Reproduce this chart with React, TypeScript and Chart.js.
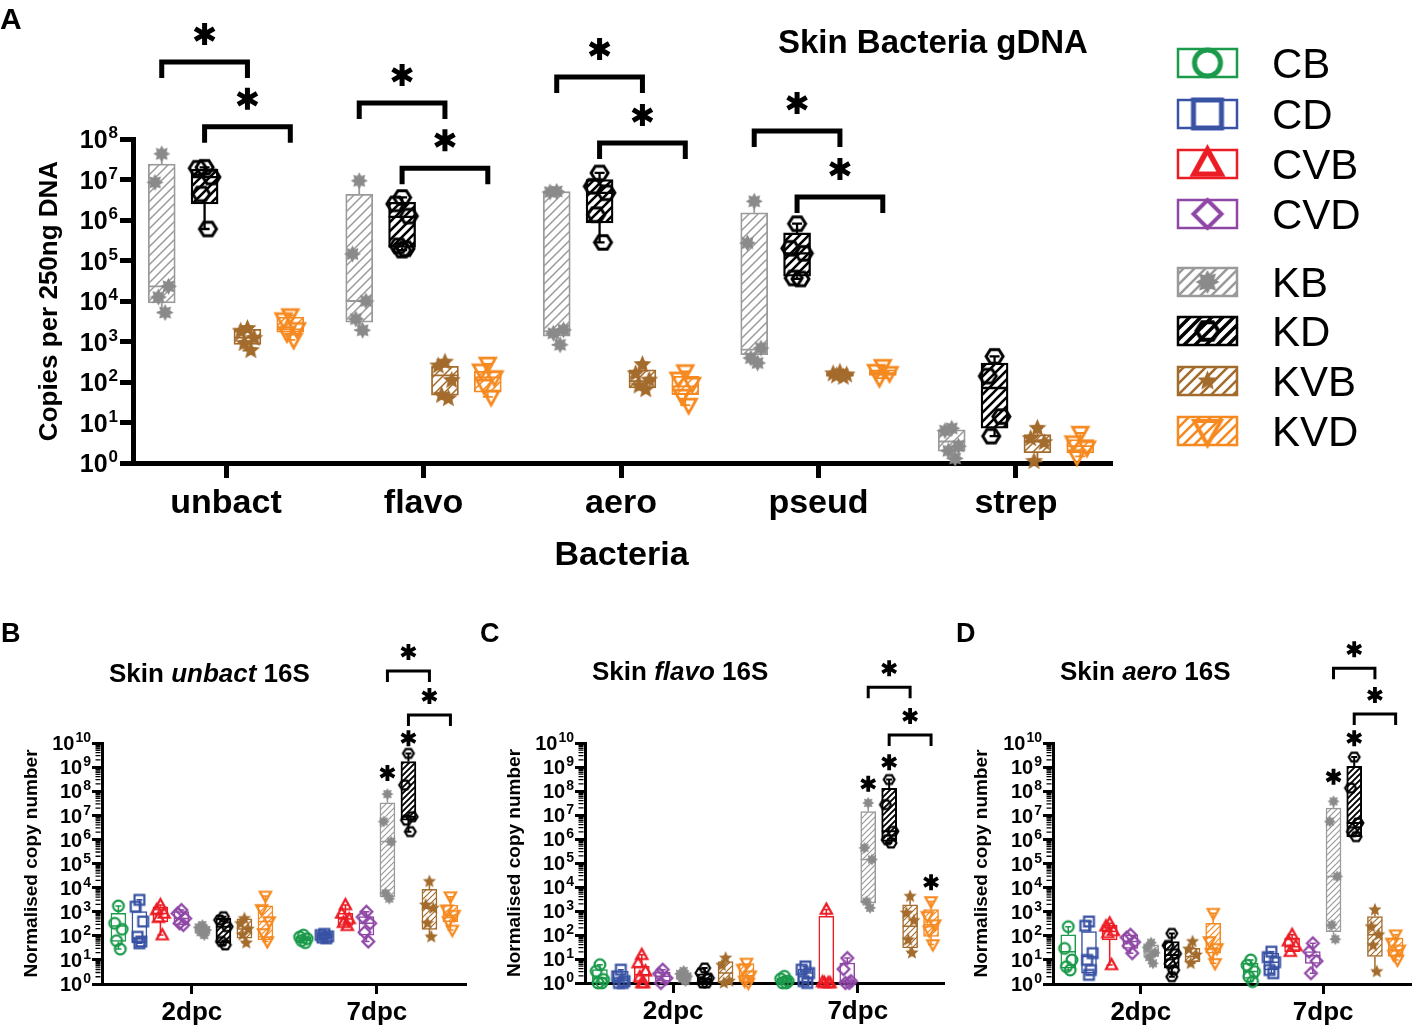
import React, { useEffect, useRef } from "react";
import { Chart, registerables } from "chart.js";
Chart.register(...registerables);

const FONT = "'Liberation Sans', Arial, Helvetica, sans-serif";

// ---------- categories / groups / ticks ----------
const CATS_A = ["unbact", "flavo", "aero", "pseud", "strep"];
const CATS_BOT = ["2dpc", "7dpc"];
const GROUPS = ["CB", "CD", "CVB", "CVD", "KB", "KD", "KVB", "KVD"];
const GROUPS_A = ["KB", "KD", "KVB", "KVD"];
const Y_EXPS_A = [0, 1, 2, 3, 4, 5, 6, 7, 8];
const Y_EXPS_BOT = [0, 1, 2, 3, 4, 5, 6, 7, 8, 9, 10];

// ---------- Panel A (rows: KB, KD, KVB, KVD; box = [min, q1, median, q3, max]) ----------
const A_UNBACT_BOX = [[5.2e3, 9.0e3, 2.3e4, 2.4e7, 4.3e7], [6.0e5, 2.5e6, 1.15e7, 1.8e7, 2.0e7], [600, 850, 1250, 2000, 2100], [1100, 1700, 2000, 4000, 4400]];
const A_UNBACT_PTS = [[4.3e7, 8.5e6, 2.3e4, 1.25e4, 5.2e3], [2.0e7, 1.9e7, 1.15e7, 4.4e6, 6.0e5], [2100, 1800, 1200, 900, 600], [4400, 3500, 2000, 1600, 1100]];
const A_FLAVO_BOX = [[1.9e3, 3.0e3, 1.0e4, 4.3e6, 9.3e6], [1.8e5, 2.1e5, 1.2e6, 2.75e6, 3.6e6], [39, 47, 145, 245, 310], [43, 56, 130, 185, 280]];
const A_FLAVO_PTS = [[9.3e6, 1.45e5, 1.0e4, 3.6e3, 1.9e3], [3.6e6, 2.5e6, 1.25e6, 2.3e5, 1.95e5, 1.8e5], [310, 250, 110, 47, 39], [280, 190, 130, 80, 43]];
const A_AERO_BOX = [[830, 1.35e3, 1.8e3, 5.0e6, 5.1e6], [2.8e5, 8.5e5, 4.7e6, 1.0e7, 1.45e7], [65, 71, 105, 200, 270], [27, 49, 78, 138, 182]];
const A_AERO_PTS = [[5.1e6, 4.9e6, 1.95e3, 1.6e3, 830], [1.45e7, 6.8e6, 4.7e6, 1.35e6, 2.8e5], [270, 160, 112, 80, 65], [182, 120, 89, 45, 27]];
const A_PSEUD_BOX = [[295, 470, 630, 1.5e6, 2.9e6], [3.5e4, 4.1e4, 1.5e5, 4.8e5, 8.1e5], [132, 138, 150, 170, 175], [125, 145, 165, 200, 245]];
const A_PSEUD_PTS = [[2.9e6, 2.7e5, 690, 390, 295], [8.1e5, 2.0e5, 1.5e5, 3.7e4, 3.5e4], [175, 160, 150, 142, 132], [245, 185, 165, 125]];
const A_STREP_BOX = [[1.3, 1.95, 3.4, 6.6, 7.2], [4.6, 7.2, 71, 295, 430], [1.1, 1.8, 3.4, 5.0, 7.2], [1.45, 1.8, 2.6, 3.8, 5.5]];
const A_STREP_PTS = [[7.2, 6.3, 2.6, 2.0, 1.3], [430, 140, 14, 4.6], [7.2, 4.0, 3.2, 1.1], [5.5, 3.2, 2.4, 1.45]];

// ---------- Panels B-D (rows: CB, CD, CVB, CVD, KB, KD, KVB, KVD) ----------
const B_2DPC_BOX = [[28, 58, 257, 850, 1740], [49, 52, 80, 1000, 3100], [107, 390, 850, 1600, 1900], [280, 290, 525, 1000, 1170], [107, 126, 174, 240, 280], [42, 50, 240, 535, 620], [51, 80, 190, 500, 520], [58, 68, 390, 1750, 4500]];
const B_2DPC_PTS = [[1740, 330, 186, 63, 28], [3100, 1620, 390, 91, 58, 49], [1900, 1170, 850, 560, 107], [1170, 850, 525, 330, 280], [280, 224, 174, 141, 107], [620, 450, 240, 58, 42], [520, 320, 190, 110, 51], [4500, 1250, 390, 126, 58]];
const B_7DPC_BOX = [[52, 60, 76, 93, 107], [79, 83, 100, 115, 120], [260, 270, 500, 850, 1900], [58, 107, 330, 620, 1000], [3.5e3, 4.2e3, 8.1e5, 3.3e7, 7.6e7], [2.1e6, 6.3e6, 8.7e6, 1.7e9, 3.7e9], [91, 186, 1.4e3, 8.5e3, 1.8e4], [174, 390, 720, 1.9e3, 4.2e3]];
const B_7DPC_PTS = [[107, 89, 76, 63, 52], [120, 107, 95, 85, 79], [1900, 850, 500, 350, 260], [1000, 600, 330, 140, 58], [7.6e7, 5.5e6, 8.1e5, 5.8e3, 3.5e3], [3.7e9, 1.8e8, 8.7e6, 6.3e6, 2.1e6], [1.8e4, 1.9e3, 1.4e3, 330, 91], [4.2e3, 1.2e3, 720, 390, 174]];

const C_2DPC_BOX = [[1, 1, 1.6, 3.6, 5.8], [1, 1, 1.3, 3.1, 3.6], [1, 1, 2.2, 4.9, 15], [1, 1.2, 1.9, 2.8, 3.6], [1.2, 1.4, 1.9, 2.6, 3.2], [1, 1.05, 1.4, 2.4, 4.2], [1, 1, 2.6, 7.9, 11], [1, 1.1, 2.0, 6.5, 6.8]];
const C_2DPC_PTS = [[5.8, 3.1, 1.4, 1, 1], [3.6, 1.9, 1.2, 1, 1], [15, 6.8, 3.1, 1.8, 1, 1], [3.6, 2.4, 1.6, 1], [3.2, 2.4, 1.9, 1.5, 1.2], [4.2, 2.6, 1.6, 1, 1], [11, 5.5, 1.2, 1], [6.8, 3.8, 2.0, 1.2, 1]];
const C_7DPC_BOX = [[1, 1, 1.2, 1.6, 1.9], [1, 1.1, 2.6, 3.8, 4.9], [1, 1, 1, 600, 1150], [1, 1, 1.2, 6.8, 11], [1.35e3, 2.1e3, 1.4e5, 1.4e7, 3.2e7], [6.8e5, 8e5, 2.1e6, 1.3e8, 3e8], [18, 29, 230, 1.8e3, 4.1e3], [40, 87, 270, 1.15e3, 2.5e3]];
const C_7DPC_PTS = [[1.9, 1.5, 1.2, 1, 1], [4.9, 3.6, 2.6, 1.2, 1], [1150, 1.1, 1, 1, 1], [11, 3.8, 1.2, 1, 1], [3.2e7, 4.3e5, 1.4e5, 2.5e3, 1.35e3], [3e8, 2.7e7, 2.1e6, 9.3e5, 6.8e5], [4.1e3, 830, 400, 63, 18], [2.5e3, 600, 270, 150, 40]];

const D_2DPC_BOX = [[3.8, 4.5, 22, 110, 240], [2.4, 2.8, 14, 150, 390], [6.2, 68, 150, 280, 330], [19, 30, 58, 110, 110], [7.2, 14, 22, 42, 52], [2, 4.5, 16, 58, 126], [7.2, 8.5, 14, 30, 58], [7.2, 19, 30, 330, 870]];
const D_2DPC_PTS = [[240, 30, 10, 5.2, 3.8], [390, 260, 19, 10, 3.8, 2.4], [330, 250, 160, 130, 6.2], [110, 85, 55, 38, 19], [52, 33, 20, 13, 7.2], [126, 40, 18, 7, 3.8, 2.0], [58, 28, 16, 7.2], [870, 58, 30, 19, 7.2]];
const D_7DPC_BOX = [[1.26, 1.7, 3.3, 7.2, 10], [2.8, 3.8, 8, 19, 22], [22, 22, 35, 80, 110], [2.8, 7.2, 15, 22, 49], [72, 150, 2.9e4, 2e7, 3.8e7], [1.3e6, 1.3e6, 4.8e6, 1.07e9, 2.6e9], [3.3, 14, 110, 630, 1.2e3], [10, 14, 26, 80, 110]];
const D_7DPC_PTS = [[10, 6, 3.3, 2, 1.26], [22, 13, 8, 3.8, 2.8], [110, 60, 38, 22], [49, 22, 9, 2.8], [3.8e7, 5.5e6, 2.9e4, 280, 72], [2.6e9, 1.35e8, 4.8e6, 2.1e6, 1.3e6], [1.2e3, 240, 110, 40, 3.3], [110, 50, 26, 16, 10]];

// ---------- significance marks (at = log10 of height) ----------
const A_BRACKETS = [
  { cat: 0, from: "KB", to: "KVB", at: 9.9 }, { cat: 0, from: "KD", to: "KVD", at: 8.3 },
  { cat: 1, from: "KB", to: "KVB", at: 8.89 }, { cat: 1, from: "KD", to: "KVD", at: 7.28 },
  { cat: 2, from: "KB", to: "KVB", at: 9.53 }, { cat: 2, from: "KD", to: "KVD", at: 7.9 },
  { cat: 3, from: "KB", to: "KVB", at: 8.2 }, { cat: 3, from: "KD", to: "KVD", at: 6.57 },
];
const B_BRACKETS = [{ cat: 1, from: "KB", to: "KVB", at: 12.99 }, { cat: 1, from: "KD", to: "KVD", at: 11.16 }];
const C_BRACKETS = [{ cat: 1, from: "KB", to: "KVB", at: 12.32 }, { cat: 1, from: "KD", to: "KVD", at: 10.33 }];
const D_BRACKETS = [{ cat: 1, from: "KB", to: "KVB", at: 13.1 }, { cat: 1, from: "KD", to: "KVD", at: 11.2 }];
const B_STARS = [{ cat: 1, g: "KB", at: 8.76 }, { cat: 1, g: "KD", at: 10.2 }];
const C_STARS = [{ cat: 1, g: "KB", at: 8.3 }, { cat: 1, g: "KD", at: 9.2 }, { cat: 1, g: "KVD", at: 4.2 }];
const D_STARS = [{ cat: 1, g: "KB", at: 8.6 }, { cat: 1, g: "KD", at: 10.2 }];

// ---------- styles ----------
const STYLES: any = {
  CB: { color: "#1a9a4a", box: "#1a9a4a", marker: "circle", hatch: false },
  CD: { color: "#3852a4", box: "#3852a4", marker: "square", hatch: false },
  CVB: { color: "#ec1c24", box: "#ec1c24", marker: "triangle", hatch: false },
  CVD: { color: "#8f47a6", box: "#8f47a6", marker: "diamond", hatch: false },
  KB: { color: "#8a8a8a", box: "#9a9a9a", marker: "gear", hatch: true },
  KD: { color: "#000000", box: "#000000", marker: "hexagon", hatch: true },
  KVB: { color: "#a36b2c", box: "#a36b2c", marker: "star5", hatch: true },
  KVD: { color: "#f6891f", box: "#f6891f", marker: "invtri", hatch: true },
};

function makeHatch(ctx: CanvasRenderingContext2D, color: string, sp: number, lw: number) {
  const c = document.createElement("canvas");
  c.width = sp; c.height = sp;
  const g = c.getContext("2d")!;
  g.fillStyle = "#fff"; g.fillRect(0, 0, sp, sp);
  g.strokeStyle = color; g.lineWidth = lw;
  g.beginPath();
  for (let n = 0; n <= 2; n++) { g.moveTo(-1, n * sp + 1); g.lineTo(n * sp + 1, -1); }
  g.stroke();
  return ctx.createPattern(c, "repeat");
}

function makeMarker(kind: string, color: string, size: number, lw: number) {
  const S = Math.ceil(size + lw * 3 + 4);
  const c = document.createElement("canvas");
  c.width = S; c.height = S;
  const g = c.getContext("2d")!;
  const cx = S / 2, cy = S / 2, R = size / 2, r = R - lw / 2;
  g.strokeStyle = color; g.fillStyle = color; g.lineWidth = lw; g.lineJoin = "miter"; g.miterLimit = 3;
  const poly = (pts: number[][]) => {
    g.beginPath();
    pts.forEach(([x, y], i) => (i ? g.lineTo(cx + x, cy + y) : g.moveTo(cx + x, cy + y)));
    g.closePath();
  };
  const ring = (n: number, rOut: number, rIn: number, start: number) =>
    Array.from({ length: n * 2 }, (_, i) => {
      const a = start + (i * Math.PI) / n;
      const rr = i % 2 ? rIn : rOut;
      return [rr * Math.cos(a), rr * Math.sin(a)];
    });
  switch (kind) {
    case "circle": g.beginPath(); g.arc(cx, cy, r, 0, Math.PI * 2); g.stroke(); break;
    case "square": g.beginPath(); g.rect(cx - r, cy - r, 2 * r, 2 * r); g.stroke(); break;
    case "triangle": poly([[0, -r], [r * 0.95, r * 0.72], [-r * 0.95, r * 0.72]]); g.stroke(); break;
    case "invtri": poly([[0, r], [r * 0.95, -r * 0.72], [-r * 0.95, -r * 0.72]]); g.stroke(); break;
    case "diamond": poly([[0, -r], [r, 0], [0, r], [-r, 0]]); g.stroke(); break;
    case "hexagon": poly(Array.from({ length: 6 }, (_, i) => [r * Math.cos((i * Math.PI) / 3), r * 0.92 * Math.sin((i * Math.PI) / 3)])); g.stroke(); break;
    case "gear": poly(ring(8, R, R * 0.62, -Math.PI / 2)); g.fill(); break;
    case "star5": poly(ring(5, R, R * 0.45, -Math.PI / 2)); g.fill(); break;
  }
  return c;
}

function drawStar6(ctx: CanvasRenderingContext2D, x: number, y: number, r: number, lw: number) {
  ctx.save();
  ctx.strokeStyle = "#000"; ctx.lineWidth = lw; ctx.lineCap = "butt";
  ctx.beginPath();
  for (const deg of [90, 30, 150]) {
    const a = (deg * Math.PI) / 180;
    ctx.moveTo(x - r * Math.cos(a), y - r * Math.sin(a));
    ctx.lineTo(x + r * Math.cos(a), y + r * Math.sin(a));
  }
  ctx.stroke();
  ctx.restore();
}

function drawMixed(ctx: CanvasRenderingContext2D, parts: [string, boolean][], x: number, y: number, size: number) {
  let cx = x;
  ctx.save();
  ctx.fillStyle = "#000"; ctx.textAlign = "left"; ctx.textBaseline = "alphabetic";
  for (const [t, it] of parts) {
    ctx.font = `${it ? "italic " : ""}bold ${size}px ${FONT}`;
    ctx.fillText(t, cx, y);
    cx += ctx.measureText(t).width;
  }
  ctx.restore();
}

// "10" with a superscript exponent, right-aligned at xr, vertically centred on y
function drawPow10(ctx: CanvasRenderingContext2D, exp: number, xr: number, y: number, F: number) {
  const e = String(exp);
  const fe = Math.round(F * 0.68);
  ctx.save();
  ctx.fillStyle = "#000"; ctx.textAlign = "left"; ctx.textBaseline = "alphabetic";
  ctx.font = `bold ${fe}px ${FONT}`;
  const we = ctx.measureText(e).width;
  ctx.font = `bold ${F}px ${FONT}`;
  const wb = ctx.measureText("10").width;
  const base = y + F * 0.36;
  const x0 = xr - we - wb - 1;
  ctx.fillText("10", x0, base);
  ctx.font = `bold ${fe}px ${FONT}`;
  ctx.fillText(e, x0 + wb + 1, base - F * 0.4);
  ctx.restore();
}

const JIT = [0, -0.5, 0.5, -0.25, 0.25, 0];

function buildChart(canvas: HTMLCanvasElement, s: any) {
  const ctx0 = canvas.getContext("2d")!;
  const pxPerUnit = (s.right - s.left) / (s.xMax - s.xMin);
  const halfU = s.barW / 2 / pxPerUnit;
  const off = (gi: number) => (gi - (s.groups.length - 1) / 2) * s.step;
  const gidx = (g: string) => s.groups.indexOf(g);
  const datasets: any[] = [];
  s.groups.forEach((g: string, gi: number) => {
    const st = STYLES[g];
    const fill = st.hatch ? makeHatch(ctx0, st.box, s.hatchSp, g === "KD" ? s.hatchLWBlack : s.hatchLW) : "#ffffff";
    datasets.push({
      type: "bar",
      label: g,
      isBox: true,
      data: s.cats.map((_: string, ci: number) => {
        const b = s.boxes[ci][gi];
        return { x: ci + off(gi), y: [b[1], b[3]], lo: b[0], med: b[2], hi: b[4] };
      }),
      backgroundColor: fill,
      borderColor: st.box,
      borderWidth: g === "KD" ? s.boxLW + 0.5 : s.boxLW,
      borderSkipped: false,
      barThickness: s.barW,
      grouped: false,
      order: 2,
      clip: false,
    });
    const [ms, mlw] = s.markerSize[g];
    const marker = makeMarker(st.marker, st.color, ms, mlw);
    const pts: any[] = [];
    s.cats.forEach((_: string, ci: number) =>
      s.pts[ci][gi].forEach((v: number, k: number) => pts.push({ x: ci + off(gi) + JIT[k % JIT.length] * halfU, y: v }))
    );
    datasets.push({ type: "scatter", label: g + " points", data: pts, pointStyle: marker, pointRadius: 6, pointHoverRadius: 6, order: 1, clip: false });
  });

  const annot = {
    id: "annot",
    afterDatasetDraw(chart: any, args: any) {
      const ds = chart.data.datasets[args.index];
      if (!ds.isBox) return;
      const ys = chart.scales.y;
      const ctx = chart.ctx;
      ctx.save();
      ctx.strokeStyle = ds.borderColor;
      ctx.lineWidth = ds.borderWidth;
      args.meta.data.forEach((bar: any, j: number) => {
        const raw = ds.data[j];
        const x = bar.x, half = bar.width / 2;
        const pLo = ys.getPixelForValue(raw.lo), pHi = ys.getPixelForValue(raw.hi);
        const pQ1 = ys.getPixelForValue(raw.y[0]), pQ3 = ys.getPixelForValue(raw.y[1]);
        const pMed = ys.getPixelForValue(raw.med);
        ctx.beginPath();
        ctx.moveTo(x - half, pMed); ctx.lineTo(x + half, pMed);
        if (pHi < pQ3 - 0.5) { ctx.moveTo(x, pQ3); ctx.lineTo(x, pHi); ctx.moveTo(x - s.cap, pHi); ctx.lineTo(x + s.cap, pHi); }
        if (pLo > pQ1 + 0.5) { ctx.moveTo(x, pQ1); ctx.lineTo(x, pLo); ctx.moveTo(x - s.cap, pLo); ctx.lineTo(x + s.cap, pLo); }
        ctx.stroke();
      });
      ctx.restore();
    },
    afterDraw(chart: any) {
      const ctx = chart.ctx;
      const xs = chart.scales.x, ys = chart.scales.y;
      const left = chart.chartArea.left;
      // y tick labels (10 with superscript exponent) at the library's tick positions
      ys.ticks.forEach((t: any) => {
        const e = Math.round(Math.log10(t.value));
        drawPow10(ctx, e, left - s.yTickLen - s.yTickPad, ys.getPixelForValue(t.value), s.yTickFont);
      });
      ctx.save();
      if (s.minor) {
        const edge = left - s.axisW / 2;
        ctx.strokeStyle = "#000"; ctx.lineWidth = 1.3;
        ctx.beginPath();
        for (let e = 0; e < s.yExps[s.yExps.length - 1]; e++) {
          for (let m = 2; m <= 9; m++) {
            const y = ys.getPixelForValue(m * Math.pow(10, e));
            ctx.moveTo(edge - s.minorLen, y); ctx.lineTo(edge, y);
          }
        }
        ctx.stroke();
      }
      ctx.strokeStyle = "#000"; ctx.lineWidth = s.bracketLW; ctx.lineJoin = "miter"; ctx.lineCap = "butt";
      s.brackets.forEach((b: any) => {
        const x1 = xs.getPixelForValue(b.cat + off(gidx(b.from)));
        const x2 = xs.getPixelForValue(b.cat + off(gidx(b.to)));
        const y = ys.getPixelForValue(Math.pow(10, b.at));
        ctx.beginPath();
        ctx.moveTo(x1, y + s.legLen); ctx.lineTo(x1, y); ctx.lineTo(x2, y); ctx.lineTo(x2, y + s.legLen);
        ctx.stroke();
        drawStar6(ctx, (x1 + x2) / 2, y - s.starGap, s.starR, s.starLW);
      });
      s.stars.forEach((st: any) => {
        drawStar6(ctx, xs.getPixelForValue(st.cat + off(gidx(st.g))), ys.getPixelForValue(Math.pow(10, st.at)), s.starR, s.starLW);
      });
      ctx.restore();
      if (s.extra) s.extra(ctx, chart);
    },
  };

  const tickFont = (size: number) => ({ family: FONT, size, weight: "bold" as const });

  const scales: any = {
    x: {
      type: "linear",
      min: s.xMin,
      max: s.xMax,
      offset: false,
      afterBuildTicks: (sc: any) => { sc.ticks = s.cats.map((_: string, i: number) => ({ value: i })); },
      afterFit: (sc: any) => { sc.height = s.height - s.bottom; },
      ticks: { autoSkip: false, maxRotation: 0, minRotation: 0, padding: s.xTickPad, color: "#000", font: tickFont(s.xTickFont), callback: (v: any) => s.cats[Math.round(Number(v))] ?? "" },
      grid: { offset: false, drawOnChartArea: false, drawTicks: true, tickLength: s.xTickLen, tickWidth: s.axisW, tickColor: "#000", color: "#000", lineWidth: s.axisW },
      border: { display: true, width: s.axisW, color: "#000" },
      title: s.xTitle
        ? { display: true, text: s.xTitle, color: "#000", font: tickFont(s.xTitleFont), padding: { top: 0, bottom: s.xTitlePad } }
        : { display: false },
    },
    y: {
      type: "logarithmic",
      min: 1,
      max: Math.pow(10, s.yExps[s.yExps.length - 1]),
      afterBuildTicks: (sc: any) => { sc.ticks = s.yExps.map((e: number) => ({ value: Math.pow(10, e) })); },
      afterFit: (sc: any) => { sc.width = s.left; },
      ticks: { display: false, autoSkip: false },
      grid: { drawOnChartArea: false, drawTicks: true, tickLength: s.yTickLen, tickWidth: s.axisW, tickColor: "#000", color: "#000", lineWidth: s.axisW },
      border: { display: true, width: s.axisW, color: "#000" },
      title: { display: true, text: s.yTitle, color: "#000", font: tickFont(s.yTitleFont), padding: { top: s.yTitlePad, bottom: 0 } },
    },
  };

  return new Chart(canvas, {
    type: "bar",
    data: { datasets },
    options: {
      responsive: false,
      animation: false,
      events: [],
      layout: { padding: { left: 0, top: s.top, right: s.width - s.right, bottom: 0 } },
      plugins: { legend: { display: false }, tooltip: { enabled: false }, title: { display: false } },
      scales,
    } as any,
    plugins: [annot],
  } as any);
}

// ---------- legend (panel A) ----------
const LEGEND_ROWS = [63, 114, 164, 214, 282, 331, 381, 431];
const LEGEND_MARK: any = { CB: [31, 5], CD: [33, 5], CVB: [34, 5.5], CVD: [32, 4], KB: [24, 0], KD: [26, 4], KVB: [21, 0], KVD: [32, 4] };

function drawLegend(ctx: CanvasRenderingContext2D) {
  GROUPS.forEach((g, i) => {
    const st = STYLES[g];
    const y = LEGEND_ROWS[i];
    ctx.save();
    ctx.fillStyle = st.hatch ? (makeHatch(ctx, st.box, 11, g === "KD" ? 3.5 : 2.5) as any) : "#fff";
    ctx.fillRect(1178, y - 14, 59, 28);
    ctx.strokeStyle = st.box; ctx.lineWidth = 2.5;
    ctx.strokeRect(1178, y - 14, 59, 28);
    const [ms, lw] = LEGEND_MARK[g];
    const m = makeMarker(st.marker, st.color, ms, lw);
    ctx.drawImage(m, 1207.5 - m.width / 2, y - m.height / 2);
    ctx.fillStyle = "#000";
    ctx.font = `42px ${FONT}`;
    ctx.textAlign = "left"; ctx.textBaseline = "alphabetic";
    ctx.fillText(g, 1272, y + 15);
    ctx.restore();
  });
}

const MS_A: any = { KB: [17, 0], KD: [20, 3], KVB: [19, 0], KVD: [19, 2.8] };
const MS_BOT: any = { CB: [13, 2.2], CD: [12, 2.2], CVB: [14, 2.2], CVD: [14, 2.2], KB: [12, 0], KD: [13, 2.2], KVB: [14, 0], KVD: [14, 2.2] };

const SPEC_A = {
  cats: CATS_A, groups: GROUPS_A,
  boxes: [A_UNBACT_BOX, A_FLAVO_BOX, A_AERO_BOX, A_PSEUD_BOX, A_STREP_BOX],
  pts: [A_UNBACT_PTS, A_FLAVO_PTS, A_AERO_PTS, A_PSEUD_PTS, A_STREP_PTS],
  step: 0.217, barW: 27, boxLW: 1.8, cap: 5,
  hatchSp: 9, hatchLW: 1.5, hatchLWBlack: 2.6,
  markerSize: MS_A,
  width: 1417, height: 600, left: 133, right: 1110, top: 139, bottom: 463,
  xMin: -0.471, xMax: 4.476, yExps: Y_EXPS_A,
  yTickFont: 25, yTickLen: 13, yTickPad: 2, axisW: 5,
  xTickFont: 34, xTickLen: 15, xTickPad: 5,
  yTitle: "Copies per 250ng DNA", yTitleFont: 26, yTitlePad: 34,
  xTitle: "Bacteria", xTitleFont: 34, xTitlePad: 24,
  minor: false, minorLen: 0,
  brackets: A_BRACKETS, stars: [],
  bracketLW: 5, legLen: 16, starGap: 28, starR: 11, starLW: 5,
  extra: (ctx: CanvasRenderingContext2D) => {
    ctx.save();
    ctx.fillStyle = "#000"; ctx.textAlign = "left"; ctx.textBaseline = "alphabetic";
    ctx.font = `bold 30px ${FONT}`;
    ctx.fillText("A", 0, 29);
    ctx.font = `bold 33px ${FONT}`;
    ctx.fillText("Skin Bacteria gDNA", 778, 53);
    ctx.restore();
    drawLegend(ctx);
  },
};

function bottomSpec(opts: any) {
  return {
    cats: CATS_BOT, groups: GROUPS,
    step: 0.1135, barW: 15, boxLW: 1.5, cap: 3,
    hatchSp: 6, hatchLW: 1.2, hatchLWBlack: 1.9,
    markerSize: MS_BOT,
    height: 408, top: 123,
    yExps: Y_EXPS_BOT,
    yTickFont: 20, yTickLen: 10, yTickPad: 1, axisW: 3,
    xTickFont: 26, xTickLen: 10, xTickPad: 3,
    yTitle: "Normalised copy number", yTitleFont: 19,
    minor: true, minorLen: 5,
    bracketLW: 3, legLen: 11, starGap: 19, starR: 8, starLW: 3.8,
    ...opts,
  };
}

const titleExtra = (letter: string, lx: number, name: string, tx: number, ty: number) => (ctx: CanvasRenderingContext2D) => {
  ctx.save();
  ctx.fillStyle = "#000"; ctx.textAlign = "left"; ctx.textBaseline = "alphabetic";
  ctx.font = `bold 27px ${FONT}`;
  ctx.fillText(letter, lx, 22);
  ctx.restore();
  drawMixed(ctx, [["Skin ", false], [name, true], [" 16S", false]], tx, ty, 26);
};

const SPEC_B = bottomSpec({
  boxes: [B_2DPC_BOX, B_7DPC_BOX], pts: [B_2DPC_PTS, B_7DPC_PTS],
  width: 478, left: 102, right: 465, bottom: 364, xMin: -0.486, xMax: 1.476, yTitlePad: 20,
  brackets: B_BRACKETS, stars: B_STARS, extra: titleExtra("B", 1, "unbact", 109, 62),
});
const SPEC_C = bottomSpec({
  boxes: [C_2DPC_BOX, C_7DPC_BOX], pts: [C_2DPC_PTS, C_7DPC_PTS],
  width: 472, left: 107, right: 468, bottom: 363, xMin: -0.478, xMax: 1.462, yTitlePad: 25,
  brackets: C_BRACKETS, stars: C_STARS, extra: titleExtra("C", 2, "flavo", 114, 60),
});
const SPEC_D = bottomSpec({
  boxes: [D_2DPC_BOX, D_7DPC_BOX], pts: [D_2DPC_PTS, D_7DPC_PTS],
  width: 467, left: 103, right: 465, bottom: 364, xMin: -0.481, xMax: 1.476, yTitlePad: 20,
  brackets: D_BRACKETS, stars: D_STARS, extra: titleExtra("D", 6, "aero", 110, 60),
});

export default function App() {
  const refA = useRef<HTMLCanvasElement>(null);
  const refB = useRef<HTMLCanvasElement>(null);
  const refC = useRef<HTMLCanvasElement>(null);
  const refD = useRef<HTMLCanvasElement>(null);
  useEffect(() => {
    const charts = [
      buildChart(refA.current!, SPEC_A),
      buildChart(refB.current!, SPEC_B),
      buildChart(refC.current!, SPEC_C),
      buildChart(refD.current!, SPEC_D),
    ];
    return () => charts.forEach((c) => c.destroy());
  }, []);
  const cv = (left: number, top: number, w: number, h: number) => ({ position: "absolute" as const, left, top, width: w, height: h });
  return (
    <div style={{ position: "absolute", left: 0, top: 0, width: 1417, height: 1028, background: "#fff", overflow: "hidden" }}>
      <canvas ref={refA} width={1417} height={600} style={cv(0, 0, 1417, 600)} />
      <canvas ref={refB} width={478} height={408} style={cv(0, 620, 478, 408)} />
      <canvas ref={refC} width={472} height={408} style={cv(478, 620, 472, 408)} />
      <canvas ref={refD} width={467} height={408} style={cv(950, 620, 467, 408)} />
    </div>
  );
}
